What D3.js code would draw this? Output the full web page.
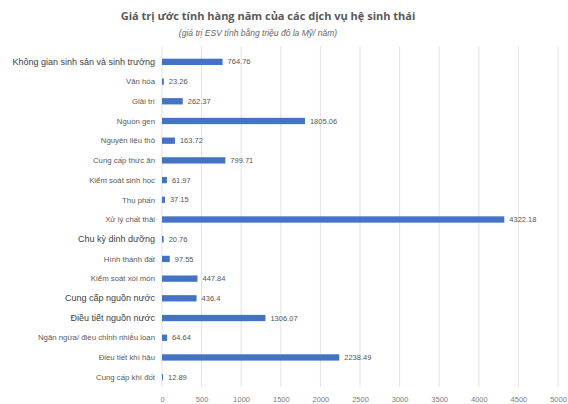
<!DOCTYPE html>
<html>
<head>
<meta charset="utf-8">
<script src="https://cdn.jsdelivr.net/npm/d3@7"></script>
<style>
  body { margin: 0; background: #fff; }
  svg { font-family: "Liberation Sans", Arial, sans-serif; }
</style>
</head>
<body>
<div id="app"></div>
<script>
const categories = [
  "Không gian sinh sản và sinh trưởng",
  "Văn hóa",
  "Giải trí",
  "Nguồn gen",
  "Nguyên liệu thô",
  "Cung cấp thức ăn",
  "Kiểm soát sinh học",
  "Thụ phấn",
  "Xử lý chất thải",
  "Chu kỳ dinh dưỡng",
  "Hình thành đất",
  "Kiểm soát xói mòn",
  "Cung cấp nguồn nước",
  "Điều tiết nguồn nước",
  "Ngăn ngừa/ điều chỉnh nhiễu loạn",
  "Điều tiết khí hậu",
  "Cung cấp khí đốt"
]
const values = [764.76, 23.26, 262.37, 1805.06, 163.72, 799.71, 61.97, 37.15, 4322.18, 20.76, 97.55, 447.84, 436.4, 1306.07, 64.64, 2238.49, 12.89]
const valueLabels = ["764.76", "23.26", "262.37", "1805.06", "163.72", "799.71", "61.97", "37.15", "4322.18", "20.76", "97.55", "447.84", "436.4", "1306.07", "64.64", "2238.49", "12.89"]
const xTicks = [0, 500, 1000, 1500, 2000, 2500, 3000, 3500, 4000, 4500, 5000]

const title = "Giá trị ước tính hàng năm của các dịch vụ hệ sinh thái"
const subtitle = "(giá trị ESV tính bằng triệu đô la Mỹ/ năm)"

// labels that the original renders in a bigger font
const bigLabels = new Set(["Không gian sinh sản và sinh trưởng", "Chu kỳ dinh dưỡng", "Cung cấp nguồn nước", "Điều tiết nguồn nước"])

const width = 568
const height = 404
const marginLeft = 162
const marginRight = 10
const marginTop = 52
const marginBottom = 17

const svg = d3.select('#app')
  .append('svg')
  .attr('width', width)
  .attr('height', height)

const x = d3.scaleLinear()
  .domain([0, 5000])
  .range([marginLeft, width - marginRight])

const y = d3.scaleBand()
  .domain(categories)
  .range([marginTop, height - marginBottom])
  .paddingInner(0.68)
  .paddingOuter(0.34)

// gridlines
svg.append('g')
  .selectAll('line')
  .data(xTicks)
  .join('line')
  .attr('x1', d => x(d))
  .attr('x2', d => x(d))
  .attr('y1', marginTop - 6)
  .attr('y2', height - marginBottom)
  .attr('stroke', '#e3e3e3')
  .attr('stroke-width', 1)

// x axis labels
const xAxis = svg.append('g')
  .attr('transform', `translate(0,${height - marginBottom})`)
  .call(d3.axisBottom(x).tickValues(xTicks).tickFormat(d3.format('d')).tickSize(0).tickPadding(10))
xAxis.select('.domain').remove()
xAxis.selectAll('text')
  .attr('fill', '#7a7a7a')
  .style('font-size', '7.5px')

// bars
svg.append('g')
  .selectAll('rect')
  .data(values)
  .join('rect')
  .attr('x', x(0))
  .attr('y', (d, i) => y(categories[i]))
  .attr('width', d => x(d) - x(0))
  .attr('height', y.bandwidth())
  .attr('fill', '#4472c4')

// value labels
svg.append('g')
  .selectAll('text')
  .data(values)
  .join('text')
  .attr('x', d => x(d) + 5)
  .attr('y', (d, i) => y(categories[i]) + y.bandwidth() / 2)
  .attr('dy', '0.35em')
  .attr('fill', '#555')
  .style('font-size', '7.5px')
  .text((d, i) => valueLabels[i])

// category labels
svg.append('g')
  .selectAll('text')
  .data(categories)
  .join('text')
  .attr('x', marginLeft - 7)
  .attr('y', d => y(d) + y.bandwidth() / 2)
  .attr('dy', '0.35em')
  .attr('text-anchor', 'end')
  .attr('fill', d => bigLabels.has(d) ? '#404040' : '#595959')
  .style('font-size', d => bigLabels.has(d) ? '9px' : '7.8px')
  .text(d => d)

svg.append('text')
  .attr('x', 268)
  .attr('y', 20)
  .attr('text-anchor', 'middle')
  .attr('fill', '#595959')
  .style('font-size', '11px')
  .style('font-weight', 'bold')
  .style('font-family', '"Open Sans", sans-serif')
  .text(title)

svg.append('text')
  .attr('x', 258)
  .attr('y', 36)
  .attr('text-anchor', 'middle')
  .attr('fill', '#666')
  .style('font-size', '8.5px')
  .style('font-style', 'italic')
  .text(subtitle)
</script>
</body>
</html>
